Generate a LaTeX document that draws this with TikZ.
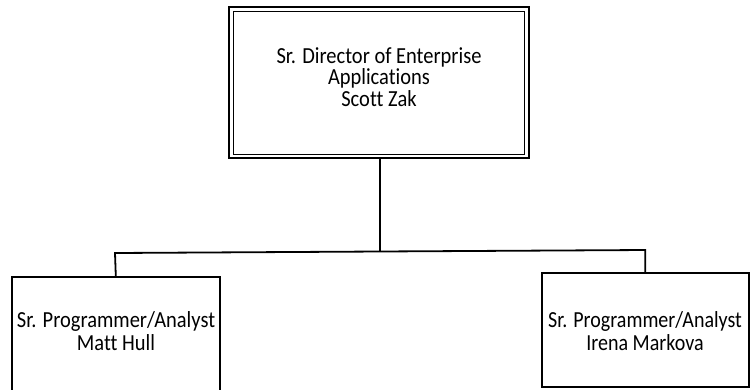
\documentclass[tikz,border=0pt]{standalone}
\usepackage{fontspec}
\setmainfont{Carlito}[FakeStretch=0.89, Ligatures=NoCommon]
\newfontfamily\narrowfont{Carlito}[FakeStretch=0.87, Ligatures=NoCommon]
\begin{document}
\begin{tikzpicture}[x=1pt,y=-1pt,
  box/.style={draw, line width=1.6pt, inner sep=0pt, anchor=north west},
  conn/.style={line width=1.8pt},
  lbl/.style={align=center, inner sep=0pt}]
\useasboundingbox (0,0) rectangle (750,389);
% top box (double border)
\node[box, line width=2pt, minimum width=300, minimum height=151] (top) at (228,6) {};
\draw[line width=1.4pt] ([shift={(5.5,5.5)}]top.north west) rectangle ([shift={(-5.5,-4.5)}]top.south east);
\node[lbl, font=\fontsize{23}{21.5}\selectfont] (toptext) at (379,77) {Sr. Director of Enterprise\\Applications\\Scott Zak};
% bottom boxes
\node[box, minimum width=208, minimum height=116] (left) at (11,276) {};
\node[lbl, font=\fontsize{23}{23.3}\selectfont] (lefttext) at (116,331) {Sr. Programmer/Analyst\\Matt Hull};
\node[box, minimum width=207, minimum height=114] (right) at (541,272) {};
\node[lbl, font=\narrowfont\fontsize{23}{23.3}\selectfont] (righttext) at (645,331) {Sr. Programmer/Analyst\\Irena Markova};
% connectors
\coordinate (jn) at (380,251.5);
\draw[conn] (top.south -| jn) -- (jn);
\draw[conn] (left.north) -- (115,253) -- (jn) -- (right.north |- 0,250) -- (right.north);
\end{tikzpicture}
\end{document}
